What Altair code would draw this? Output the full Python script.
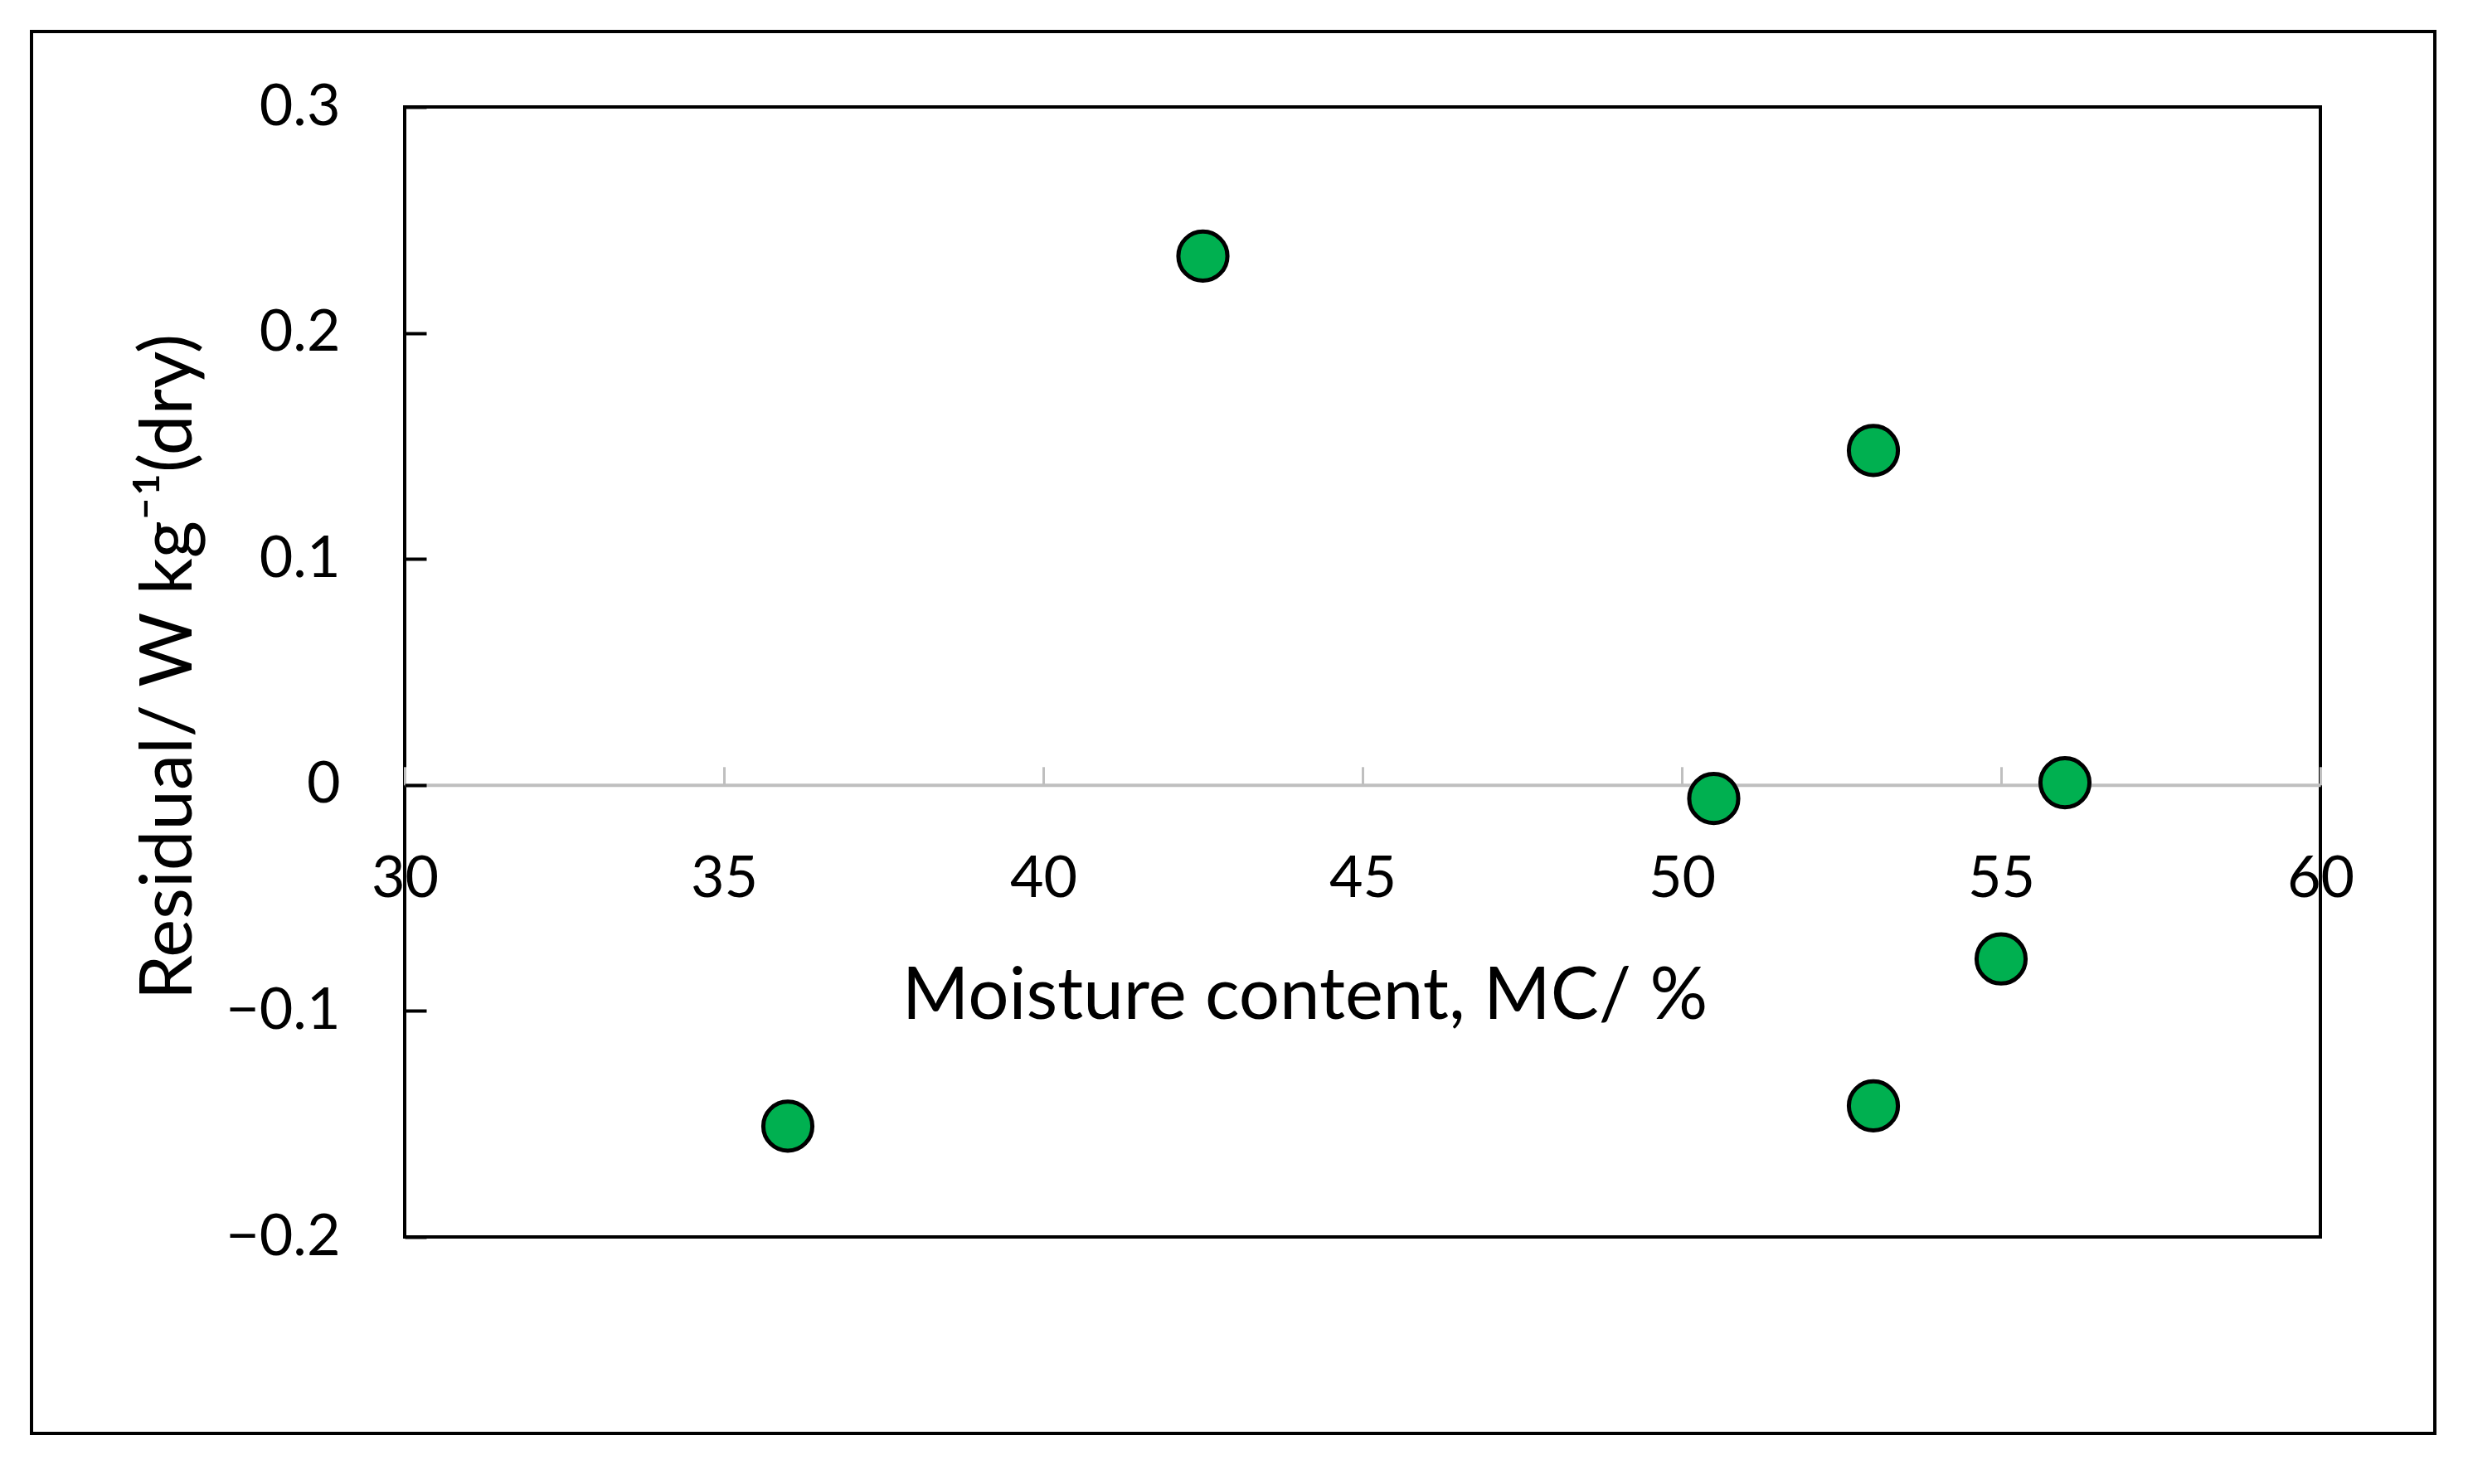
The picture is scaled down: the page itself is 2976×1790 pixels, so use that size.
import altair as alt
import pandas as pd

# Data
moisture = [36.0, 42.5, 50.5, 53.0, 53.0, 55.0, 56.0]
residual = [-0.151, 0.234, -0.006, 0.148, -0.142, -0.077, 0.001]
x_ticks = [30, 35, 40, 45, 50, 55, 60]
y_ticks = [-0.2, -0.1, 0.0, 0.1, 0.2, 0.3]
x_title = "Moisture content, MC/ %"
y_title = "Residual/ W kg\u207b\u00b9(dry)"

df = pd.DataFrame({"mc": moisture, "res": residual})
one = pd.DataFrame({"a": [0]})

W, H = 2310, 1363
FONT = "Lato"
LABEL_SIZE = 70
TITLE_SIZE = 87
zero_from_top = H * 0.3 / 0.5

xs = alt.Scale(domain=[30, 60], nice=False, zero=False)
ys = alt.Scale(domain=[-0.2, 0.3], nice=False, zero=False)

frame = alt.Chart(one).mark_rect(fill="transparent", stroke="black", strokeWidth=4).encode(
    x=alt.value(-450), x2=alt.value(2448), y=alt.value(-91), y2=alt.value(1600)
)

labels_layer = alt.Chart(df).mark_point(opacity=0).encode(
    x=alt.X("mc:Q", scale=xs, axis=alt.Axis(
        orient="bottom", offset=zero_from_top - H, values=x_ticks,
        ticks=False, tickSize=0, domain=False, grid=False,
        labelFont=FONT, labelFontSize=LABEL_SIZE, labelColor="black", labelPadding=80,
        labelBaseline="top", labelFlush=False, labelOverlap=False,
        title=x_title, titleFont=FONT, titleFontSize=TITLE_SIZE, titleFontWeight="normal",
        titleColor="black", titleX=1085, titleY=282, titleAlign="center",
        titleBaseline="alphabetic")),
    y=alt.Y("res:Q", scale=ys, axis=alt.Axis(
        orient="left", values=y_ticks, ticks=False, tickSize=0, domain=False, grid=False,
        labelFont=FONT, labelFontSize=LABEL_SIZE, labelColor="black", labelPadding=78,
        labelFlush=False, labelOverlap=False, labelBaseline="middle",
        labelExpr="abs(datum.value) < 1e-9 ? '0' : format(datum.value, '.1f')",
        title=y_title, titleFont=FONT, titleFontSize=TITLE_SIZE, titleFontWeight="normal",
        titleColor="black", titleX=-258, titleY=675, titleAngle=-90,
        titleAlign="center", titleBaseline="alphabetic")),
)

points = alt.Chart(df).mark_circle(
    size=3500, fill="#00B050", stroke="black", strokeWidth=5, opacity=1
).encode(
    x=alt.X("mc:Q", scale=xs, axis=alt.Axis(
        orient="top", offset=-zero_from_top, values=x_ticks, labels=False, title=None,
        domainColor="#BFBFBF", domainWidth=4, tickColor="#BFBFBF", tickWidth=3,
        tickSize=22, grid=False)),
    y=alt.Y("res:Q", scale=ys, axis=alt.Axis(
        orient="right", offset=-W, values=y_ticks, labels=False, title=None,
        domain=False, tickColor="black", tickWidth=4, tickSize=26, grid=False)),
)

chart = alt.layer(frame, labels_layer, points).resolve_scale(
    x="independent", y="independent"
).properties(
    width=W, height=H,
    background="white",
    autosize=alt.AutoSizeParams(type="none"),
    padding={"left": 480, "top": 121, "right": 170, "bottom": 290},
).configure_view(stroke="black", strokeWidth=4)

chart.save("out.html", embed_options={"renderer": "svg", "actions": False})
